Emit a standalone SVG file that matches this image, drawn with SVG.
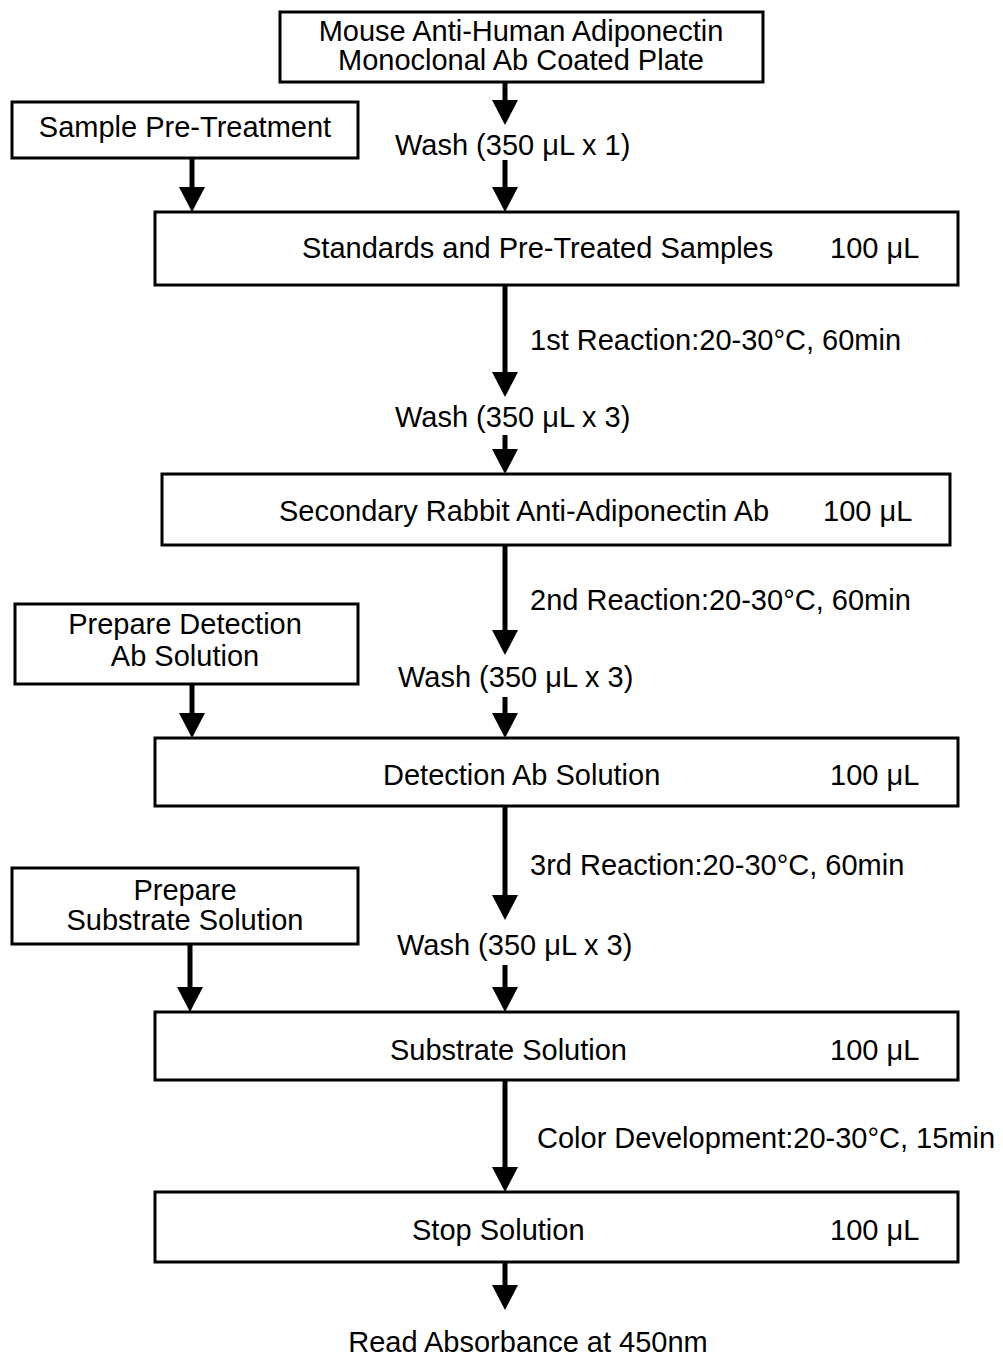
<svg xmlns="http://www.w3.org/2000/svg" width="1003" height="1361" viewBox="0 0 1003 1361">
<style>
text{font-family:"Liberation Sans",Arial,sans-serif;font-size:29px;fill:#000}
.box{fill:#fff;stroke:#000;stroke-width:3}
.ln{stroke:#000;stroke-width:5;fill:none;marker-end:url(#ah)}
</style>
<defs>
<marker id="ah" markerUnits="userSpaceOnUse" viewBox="0 0 25 26" markerWidth="25" markerHeight="26" refX="0" refY="13" orient="auto">
<path d="M0,0 L25,13 L0,26 z" fill="#000"/>
</marker>
</defs>
<rect width="1003" height="1361" fill="#fff"/>
<g id="connectors">
<line class="ln" x1="505" y1="82" x2="505" y2="100"/>
<line class="ln" x1="505" y1="160" x2="505" y2="187"/>
<line class="ln" x1="192" y1="158" x2="192" y2="187"/>
<line class="ln" x1="505" y1="285" x2="505" y2="372"/>
<line class="ln" x1="505" y1="435" x2="505" y2="449"/>
<line class="ln" x1="505" y1="545" x2="505" y2="630"/>
<line class="ln" x1="505" y1="697" x2="505" y2="713"/>
<line class="ln" x1="192" y1="684" x2="192" y2="713"/>
<line class="ln" x1="505" y1="806" x2="505" y2="895"/>
<line class="ln" x1="505" y1="965" x2="505" y2="987"/>
<line class="ln" x1="190" y1="944" x2="190" y2="987"/>
<line class="ln" x1="505" y1="1080" x2="505" y2="1167"/>
<line class="ln" x1="505" y1="1262" x2="505" y2="1285"/>
</g>
<g id="coated-plate">
<rect class="box" x="280" y="12" width="483" height="70"/>
<text x="521" y="41" text-anchor="middle">Mouse Anti-Human Adiponectin</text>
<text x="521" y="70" text-anchor="middle">Monoclonal Ab Coated Plate</text>
</g>
<g id="sample-pretreatment">
<rect class="box" x="12" y="102" width="346" height="56"/>
<text x="185" y="137" text-anchor="middle">Sample Pre-Treatment</text>
</g>
<g id="wash1"><text x="395" y="155">Wash (350 μL x 1)</text></g>
<g id="standards">
<rect class="box" x="155" y="212" width="803" height="73"/>
<text x="302" y="258">Standards and Pre-Treated Samples</text>
<text x="830" y="258">100 μL</text>
</g>
<g id="reaction1"><text x="530" y="350">1st Reaction:20-30°C, 60min</text></g>
<g id="wash2"><text x="395" y="427">Wash (350 μL x 3)</text></g>
<g id="secondary">
<rect class="box" x="162" y="474" width="788" height="71"/>
<text x="279" y="521">Secondary Rabbit Anti-Adiponectin Ab</text>
<text x="823" y="521">100 μL</text>
</g>
<g id="reaction2"><text x="530" y="610">2nd Reaction:20-30°C, 60min</text></g>
<g id="prep-detection">
<rect class="box" x="15" y="604" width="343" height="80"/>
<text x="185" y="634" text-anchor="middle">Prepare Detection</text>
<text x="185" y="666" text-anchor="middle">Ab Solution</text>
</g>
<g id="wash3"><text x="398" y="687">Wash (350 μL x 3)</text></g>
<g id="detection">
<rect class="box" x="155" y="738" width="803" height="68"/>
<text x="383" y="785">Detection Ab Solution</text>
<text x="830" y="785">100 μL</text>
</g>
<g id="reaction3"><text x="530" y="875">3rd Reaction:20-30°C, 60min</text></g>
<g id="prep-substrate">
<rect class="box" x="12" y="868" width="346" height="76"/>
<text x="185" y="900" text-anchor="middle">Prepare</text>
<text x="185" y="930" text-anchor="middle">Substrate Solution</text>
</g>
<g id="wash4"><text x="397" y="955">Wash (350 μL x 3)</text></g>
<g id="substrate">
<rect class="box" x="155" y="1012" width="803" height="68"/>
<text x="390" y="1060">Substrate Solution</text>
<text x="830" y="1060">100 μL</text>
</g>
<g id="color-dev"><text x="537" y="1148">Color Development:20-30°C, 15min</text></g>
<g id="stop">
<rect class="box" x="155" y="1192" width="803" height="70"/>
<text x="412" y="1240">Stop Solution</text>
<text x="830" y="1240">100 μL</text>
</g>
<g id="read"><text x="528" y="1352" text-anchor="middle">Read Absorbance at 450nm</text></g>
</svg>
